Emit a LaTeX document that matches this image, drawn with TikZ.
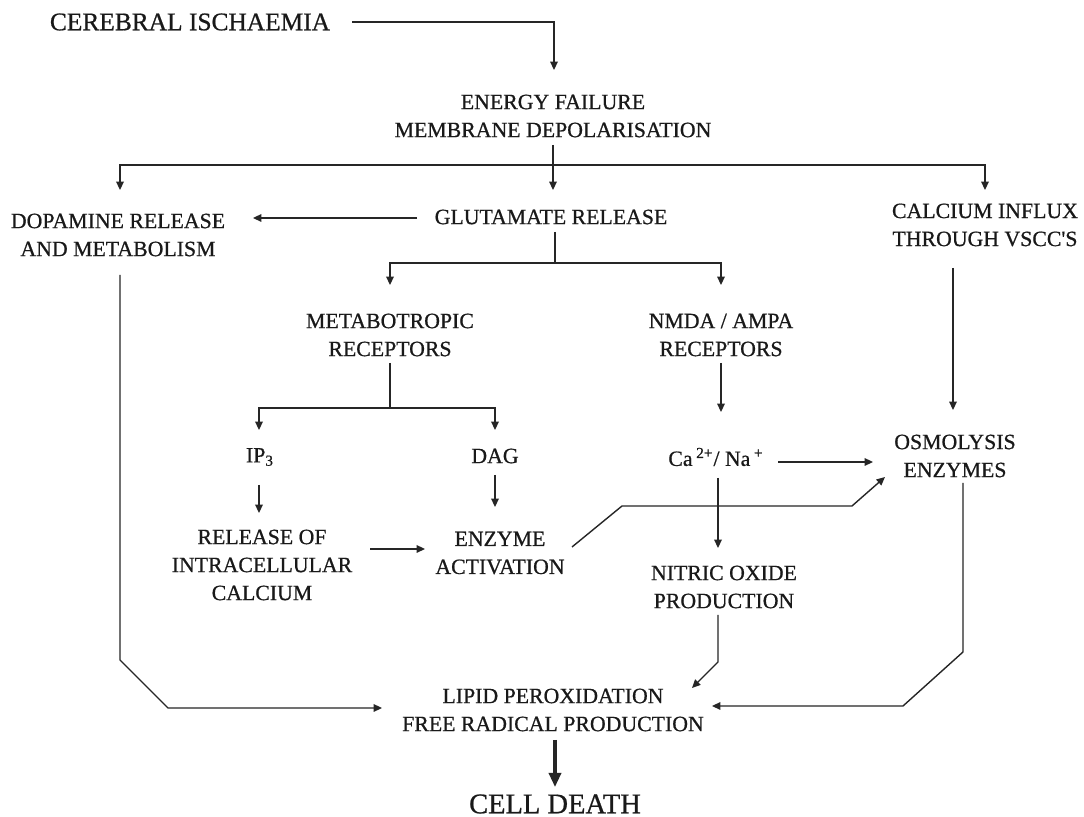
\documentclass[tikz,border=0pt]{standalone}
\usepackage{fontspec}
\setmainfont[FakeBold=0.7]{Liberation Serif}
\usetikzlibrary{arrows.meta}
\begin{document}
\begin{tikzpicture}[x=0.5pt,y=-0.5pt,
  lbl/.style={font=\fontsize{10.9}{14}\selectfont, align=center, inner sep=0pt, text=black!90},
  ttl/.style={font=\fontsize{12.7}{15}\selectfont, inner sep=0pt, text=black!90},
  big/.style={font=\fontsize{14.25}{17}\selectfont, inner sep=0pt, text=black!90},
  ln/.style={line width=0.7pt, draw=black!85},
  arr/.style={line width=0.7pt, draw=black!85, -{Triangle[length=4.2pt,width=3.8pt]}},
  bigarr/.style={line width=1.6pt, draw=black!85, -{Triangle[length=7pt,width=6pt]}}]
\fill[white] (0,0) rectangle (1084,817);
\useasboundingbox (0,0) rectangle (1084,817);
% nodes
\node[ttl] (ci) at (190,22) {CEREBRAL ISCHAEMIA};
\node[lbl] (ef) at (553,116) {ENERGY FAILURE\\MEMBRANE DEPOLARISATION};
\node[lbl] (dop) at (118,235) {DOPAMINE RELEASE\\AND METABOLISM};
\node[lbl] (glu) at (551,217) {GLUTAMATE RELEASE};
\node[lbl] (cal) at (985,225) {CALCIUM INFLUX\\THROUGH VSCC\textquotesingle S};
\node[lbl] (met) at (390,335) {METABOTROPIC\\RECEPTORS};
\node[lbl] (nmda) at (721,335) {NMDA / AMPA\\RECEPTORS};
\node[lbl] (ip) at (260,457) {IP\textsubscript{3}};
\node[lbl] (dag) at (495,456) {DAG};
\node[lbl] (ca) at (716,457) {Ca\,\textsuperscript{2+}/ Na\,\textsuperscript{+}};
\node[lbl] (osm) at (955,456) {OSMOLYSIS\\ENZYMES};
\node[lbl] (rel) at (262,565) {RELEASE OF\\INTRACELLULAR\\CALCIUM};
\node[lbl] (enz) at (500,553) {ENZYME\\ACTIVATION};
\node[lbl] (no) at (724,587) {NITRIC OXIDE\\PRODUCTION};
\node[lbl] (lip) at (553,710) {LIPID PEROXIDATION\\FREE RADICAL PRODUCTION};
\node[big] (cd) at (555,804) {CELL DEATH};
% connector end points
\coordinate (ci-o) at (352,22);
\coordinate (ef-i) at (554,70);
\coordinate (ef-o) at (553,145);
\coordinate (br1) at (553,165);
\coordinate (dop-i) at (120,190);
\coordinate (glu-i) at (553,190);
\coordinate (cal-i) at (985,190);
\coordinate (glu-l) at (417,218);
\coordinate (dop-r) at (253,218);
\coordinate (glu-o) at (555,232);
\coordinate (br2) at (555,263);
\coordinate (met-i) at (390,285);
\coordinate (nmda-i) at (721,285);
\coordinate (met-o) at (390,363);
\coordinate (br3) at (390,408);
\coordinate (ip-i) at (259,430);
\coordinate (dag-i) at (495,430);
\coordinate (nmda-o) at (721,363);
\coordinate (ca-i) at (721,412);
\coordinate (cal-o) at (953,268);
\coordinate (osm-i) at (953,410);
\coordinate (ip-o) at (259,485);
\coordinate (rel-i) at (259,513);
\coordinate (dag-o) at (495,475);
\coordinate (enz-i) at (495,507);
\coordinate (rel-o) at (370,549);
\coordinate (enz-l) at (425,549);
\coordinate (enz-o) at (572,547);
\coordinate (b1) at (622,506);
\coordinate (b2) at (852,506);
\coordinate (osm-d) at (885,477);
\coordinate (ca-r) at (778,462);
\coordinate (osm-l) at (873,462);
\coordinate (ca-o) at (718,478);
\coordinate (no-i) at (718,548);
\coordinate (no-o) at (718,615);
\coordinate (b3) at (718,662);
\coordinate (lip-t) at (692,688);
\coordinate (dop-o) at (120,275);
\coordinate (b4) at (120,660);
\coordinate (b5) at (168,708);
\coordinate (lip-l) at (382,708);
\coordinate (osm-o) at (963,483);
\coordinate (b6) at (963,652);
\coordinate (b7) at (903,706);
\coordinate (lip-r) at (712,706);
\coordinate (lip-o) at (555,740);
\coordinate (cd-i) at (555,787);
% connectors
\draw[arr] (ci-o) -| (ef-i);
\draw[arr] (ef-o) -- (glu-i);
\draw[arr] (br1) -| (dop-i);
\draw[arr] (br1) -| (cal-i);
\draw[arr] (glu-l) -- (dop-r);
\draw[ln] (glu-o) -- (br2);
\draw[arr] (br2) -| (met-i);
\draw[arr] (br2) -| (nmda-i);
\draw[ln] (met-o) -- (br3);
\draw[arr] (br3) -| (ip-i);
\draw[arr] (br3) -| (dag-i);
\draw[arr] (nmda-o) -- (ca-i);
\draw[arr] (cal-o) -- (osm-i);
\draw[arr] (ip-o) -- (rel-i);
\draw[arr] (dag-o) -- (enz-i);
\draw[arr] (rel-o) -- (enz-l);
\draw[arr] (enz-o) -- (b1) -- (b2) -- (osm-d);
\draw[arr] (ca-r) -- (osm-l);
\draw[arr] (ca-o) -- (no-i);
\draw[arr] (no-o) -- (b3) -- (lip-t);
\draw[arr] (dop-o) -- (b4) -- (b5) -- (lip-l);
\draw[arr] (osm-o) -- (b6) -- (b7) -- (lip-r);
\draw[bigarr] (lip-o) -- (cd-i);
\end{tikzpicture}
\end{document}
